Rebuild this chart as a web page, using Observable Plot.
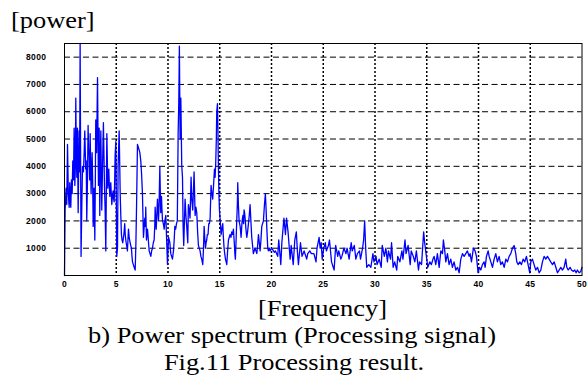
<!DOCTYPE html>
<html>
<head>
<meta charset="utf-8">
<script src="https://cdn.jsdelivr.net/npm/d3@7"></script>
<script src="https://cdn.jsdelivr.net/npm/@observablehq/plot@0.6"></script>
<style>
  html, body { margin: 0; padding: 0; background: #fff; }
  #wrap { position: relative; width: 587px; height: 385px; overflow: hidden; background: #fff; }
  #chart { position: absolute; left: 0; top: 0; }
  .cap { position: absolute; font-family: "Liberation Serif", "Times New Roman", serif; font-size: 23.8px; line-height: 26px; height: 26px; color: #000; white-space: nowrap; transform: scaleX(1.11); transform-origin: center; }
</style>
</head>
<body>
<div id="wrap">
  <div id="chart"></div>
  <div class="cap" id="ylab" style="left:11px; top:7px; transform-origin: left center;">[power]</div>
  <div class="cap" id="xlab" style="left:0; width:645px; text-align:center; top:295.3px;">[Frequency]</div>
  <div class="cap" style="left:0; width:584px; text-align:center; top:322px;">b) Power spectrum (Processing signal)</div>
  <div class="cap" style="left:0; width:588px; text-align:center; top:348.7px;">Fig.11 Processing result.</div>
</div>
<script>
// x tick labels (Hz) and y tick labels (power)
const xTicks = [0, 5, 10, 15, 20, 25, 30, 35, 40, 45, 50];
const xGrid = [5, 10, 15, 20, 25, 30, 35, 40, 45];
const yTicks = [1000, 2000, 3000, 4000, 5000, 6000, 7000, 8000];

// [frequency, power] readings, 0 - 11.5 Hz
const band0to11 = [
[0,0],[0.06,2400],[0.15,3200],[0.22,2600],[0.29,4800],[0.37,3000],[0.45,2500],[0.51,3400],[0.57,2700],[0.61,2500],
[0.67,3500],[0.74,3000],[0.8,4200],[0.87,3500],[0.93,5400],[1.0,3300],[1.05,4000],[1.09,6500],[1.14,4500],[1.19,3600],
[1.25,5400],[1.32,2300],[1.41,5300],[1.46,3800],[1.51,8500],[1.56,4000],[1.6,700],[1.67,2500],[1.74,4000],[1.83,3800],
[1.9,4500],[1.96,5300],[2.05,3900],[2.1,4200],[2.15,2000],[2.22,3500],[2.28,5500],[2.33,4600],[2.38,4400],[2.43,3500],
[2.48,5200],[2.57,3000],[2.62,3800],[2.67,4500],[2.72,3500],[2.77,1800],[2.86,3200],[2.93,1300],[2.98,3500],[3.02,5700],
[3.1,4500],[3.19,7250],[3.24,5000],[3.28,3300],[3.35,5400],[3.41,2200],[3.46,4200],[3.51,5300],[3.55,4000],[3.6,2400],
[3.7,4500],[3.76,5600],[3.81,4500],[3.86,3300],[3.92,2500],[3.99,900],[4.04,3000],[4.09,5200],[4.14,4200],[4.18,3200],
[4.23,3500],[4.28,3900],[4.33,3300],[4.38,2900],[4.43,3200],[4.47,3400],[4.52,3000],[4.57,2600],[4.63,2900],[4.7,3100],
[4.75,2800],[4.8,2700],[4.85,3500],[4.89,4400],[4.96,4900],[5.0,3000],[5.05,700],[5.12,1000],[5.18,4000],[5.28,5300],
[5.33,4200],[5.38,3000],[5.44,2200],[5.5,1500],[5.56,1300],[5.63,1200],[5.7,1400],[5.76,1600],[5.82,1900],[5.87,1500],
[5.92,1300],[6.0,1100],[6.08,900],[6.13,1300],[6.18,1700],[6.25,1400],[6.34,1200],[6.4,1100],[6.47,1000],[6.52,700],
[6.57,500],[6.65,400],[6.73,300],[6.78,250],[6.83,200],[6.9,1200],[6.96,2500],[7.0,3500],[7.05,4800],[7.13,4700],
[7.21,4600],[7.28,4500],[7.37,4200],[7.45,3700],[7.53,3000],[7.58,2200],[7.63,1400],[7.7,1800],[7.76,2100],[7.82,1800],
[7.85,2500],[7.89,1800],[7.92,1300],[7.97,1500],[8.02,1700],[8.1,1300],[8.18,900],[8.26,800],[8.34,700],[8.42,900],
[8.5,1000],[8.58,1200],[8.66,1300],[8.72,1800],[8.76,2500],[8.82,2000],[8.86,1700],[8.92,2200],[8.98,2800],[9.04,2400],
[9.08,2000],[9.14,2600],[9.21,4000],[9.26,3000],[9.3,2300],[9.37,2900],[9.42,2400],[9.47,2000],[9.55,1900],[9.63,1700],
[9.7,2000],[9.79,2200],[9.86,1400],[9.95,400],[10.0,900],[10.05,1400],[10.12,1300],[10.18,1200],[10.22,1000],[10.27,800],
[10.35,700],[10.43,600],[10.48,750],[10.53,900],[10.6,1300],[10.66,1800],[10.74,1700],[10.82,1900],[10.9,2000],[10.98,5200],
[11.04,6300],[11.1,8400],[11.17,5000],[11.24,6500],[11.33,4000],[11.4,3600],[11.46,1800],[11.52,1100]
];

// [frequency, power] readings, 11.5 - 20.3 Hz
const band11to20 = [
[11.65,2800],[11.73,2200],[11.81,1800],[11.91,1200],[11.97,2600],[12.05,2400],[12.13,2100],[12.23,3600],[12.3,2800],[12.39,2400],
[12.45,3000],[12.52,3800],[12.57,3000],[12.62,2200],[12.7,2500],[12.78,2300],[12.86,1600],[12.94,1100],[13.02,1000],[13.1,900],
[13.18,700],[13.26,600],[13.36,400],[13.43,1000],[13.49,1800],[13.55,1400],[13.62,1000],[13.68,1200],[13.74,1300],[13.8,1500],
[13.87,1500],[13.94,1900],[14.0,1900],[14.07,2100],[14.16,3300],[14.24,3000],[14.32,2800],[14.4,3300],[14.49,3900],[14.55,3600],
[14.61,4100],[14.67,5000],[14.71,6000],[14.78,6300],[14.83,5200],[14.87,4000],[14.92,3000],[14.97,2400],[15.03,2100],[15.08,1800],
[15.13,1500],[15.2,1700],[15.29,1900],[15.35,1400],[15.42,1000],[15.48,800],[15.55,600],[15.62,500],[15.68,400],[15.76,900],
[15.84,1300],[15.92,1400],[16.0,1500],[16.08,1400],[16.16,1600],[16.24,1500],[16.32,1700],[16.37,1400],[16.42,1100],[16.46,800],
[16.51,600],[16.58,1300],[16.64,2000],[16.7,2600],[16.74,3400],[16.8,2600],[16.87,2000],[16.92,1900],[16.97,1800],[17.02,1600],
[17.06,1400],[17.11,1700],[17.16,2000],[17.24,2200],[17.3,1900],[17.35,2400],[17.4,2300],[17.45,2100],[17.53,1700],[17.61,1400],
[17.69,1600],[17.77,1900],[17.85,2200],[17.93,2600],[18.01,2000],[18.09,1400],[18.17,1100],[18.25,800],[18.33,900],[18.41,1000],
[18.5,900],[18.58,800],[18.66,1100],[18.74,1500],[18.82,1200],[18.9,900],[18.98,1300],[19.06,1800],[19.14,1900],[19.22,2000],
[19.32,2600],[19.41,3000],[19.48,2400],[19.54,1800],[19.6,1300],[19.64,1000],[19.7,900],[19.78,1000],[19.86,900],[19.94,950],
[20.03,1000],[20.11,950],[20.19,900],[20.28,850]
];

// [frequency, power] readings, 20.3 - 50 Hz
const band20to50 = [
[20.38,900],[20.5,800],[20.6,700],[20.7,1300],[20.9,400],[21.0,1200],[21.2,2100],[21.35,1500],[21.45,2100],[21.6,1600],
[21.8,600],[21.9,1100],[22.1,400],[22.25,1300],[22.4,1600],[22.5,900],[22.6,400],[22.8,1200],[22.95,700],[23.15,900],
[23.4,600],[23.5,800],[23.7,900],[23.85,800],[24.1,800],[24.3,500],[24.4,1000],[24.6,1400],[24.7,1000],[24.8,1200],
[24.9,600],[25.05,1000],[25.2,1200],[25.3,900],[25.5,1100],[25.6,1300],[25.8,500],[26.05,200],[26.2,1100],[26.4,700],
[26.5,900],[26.7,600],[26.8,700],[27.0,1000],[27.2,800],[27.3,1000],[27.5,600],[27.7,1200],[27.8,900],[28.0,1100],
[28.15,600],[28.3,800],[28.5,900],[28.6,600],[28.8,1000],[28.9,1300],[29.0,2000],[29.1,1000],[29.2,300],[29.4,400],
[29.6,300],[29.8,800],[29.9,500],[30.1,700],[30.2,400],[30.4,600],[30.6,300],[30.7,1100],[30.9,700],[31.05,1000],
[31.2,500],[31.3,900],[31.5,600],[31.6,1200],[31.75,300],[31.9,500],[32.1,200],[32.2,700],[32.4,500],[32.6,900],
[32.7,600],[32.9,1300],[33.0,800],[33.2,1100],[33.4,400],[33.5,900],[33.7,700],[33.85,500],[34.0,900],[34.2,200],
[34.3,500],[34.5,400],[34.7,1600],[34.8,1200],[35.0,600],[35.1,300],[35.3,500],[35.45,400],[35.6,600],[35.71,700],
[35.87,400],[36.03,800],[36.2,300],[36.36,900],[36.52,800],[36.61,1300],[36.74,900],[36.84,500],[37.0,800],[37.16,400],
[37.32,600],[37.48,300],[37.64,500],[37.81,200],[37.97,300],[38.13,100],[38.29,600],[38.45,800],[38.61,700],[38.77,800],
[38.93,900],[39.09,700],[39.19,800],[39.32,500],[39.51,1000],[39.67,900],[39.8,700],[39.96,100],[40.09,300],[40.22,200],
[40.38,400],[40.54,500],[40.64,300],[40.77,700],[40.93,900],[41.03,700],[41.19,500],[41.35,300],[41.51,600],[41.67,800],
[41.83,500],[41.99,700],[42.15,400],[42.31,500],[42.48,300],[42.64,600],[42.8,500],[42.96,700],[43.12,800],[43.28,1000],
[43.44,1100],[43.6,800],[43.7,500],[43.83,400],[43.99,500],[44.15,400],[44.31,600],[44.47,500],[44.63,700],[44.79,400],
[44.95,100],[45.05,500],[45.21,600],[45.37,400],[45.53,200],[45.7,300],[45.86,100],[46.02,200],[46.18,500],[46.34,700],
[46.5,600],[46.66,700],[46.82,600],[46.98,500],[47.15,400],[47.31,500],[47.47,300],[47.63,100],[47.79,200],[47.95,300],
[48.11,200],[48.27,300],[48.43,600],[48.53,300],[48.66,200],[48.85,300],[48.98,200],[49.17,150],[49.3,200],[49.43,100],
[49.56,200],[49.72,100],[49.88,150],[50.0,300]
];

const data = [...band0to11, ...band11to20, ...band20to50].map(([f, p]) => ({f, p}));

const chart = Plot.plot({
  width: 587,
  height: 295,
  marginLeft: 64,
  marginRight: 5.5,
  marginTop: 43,
  marginBottom: 20,
  style: {
    fontFamily: "'Liberation Sans', Arial, sans-serif",
    fontSize: "8.5px",
    fontWeight: "bold",
    letterSpacing: "0.4px",
    background: "transparent",
    overflow: "visible"
  },
  x: {domain: [0, 50], label: null},
  y: {domain: [0, 8500], label: null},
  marks: [
    Plot.gridY(yTicks, {stroke: "#000", strokeOpacity: 1, strokeDasharray: "6,3.5", strokeWidth: 1}),
    Plot.gridX(xGrid, {stroke: "#000", strokeOpacity: 1, strokeDasharray: "2,2", strokeWidth: 1.5}),
    Plot.line(data, {x: "f", y: "p", stroke: "#0000ff", strokeWidth: 1.3}),
    Plot.frame({stroke: "#000", strokeWidth: 1}),
    Plot.axisX(xTicks, {tickSize: 0, tickPadding: 5, label: null}),
    Plot.axisY(yTicks, {tickSize: 0, tickPadding: 18, label: null, tickFormat: d3.format("d")})
  ]
});
document.getElementById("chart").appendChild(chart);
</script>
</body>
</html>
